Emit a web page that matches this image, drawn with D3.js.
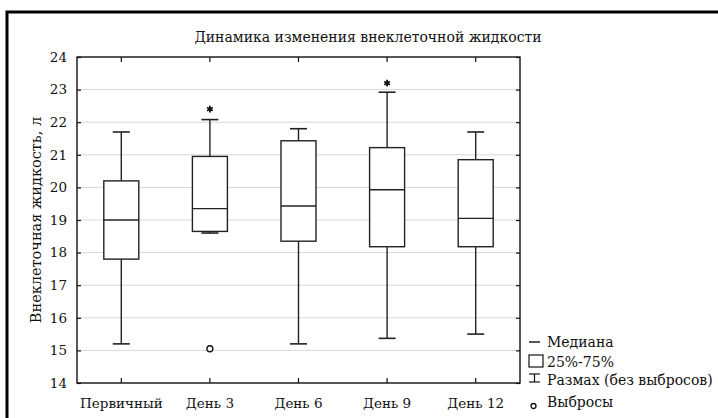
<!DOCTYPE html>
<html>
<head>
<meta charset="utf-8">
<script src="https://cdn.jsdelivr.net/npm/d3@7"></script>
<style>
  body { margin: 0; background: #fff; }
</style>
</head>
<body>
<div id="chart"></div>
<script>
////////////////////////////////////////////////////////////////////////
// Data

let categories = ["Первичный", "День 3", "День 6", "День 9", "День 12"];
let whiskerLow  = [15.2, 18.6, 15.2, 15.37, 15.5];
let q1          = [17.8, 18.65, 18.35, 18.18, 18.18];
let median      = [19.0, 19.35, 19.43, 19.93, 19.05];
let q3          = [20.2, 20.95, 21.43, 21.22, 20.85];
let whiskerHigh = [21.7, 22.08, 21.8, 22.92, 21.7];
// outliers: [category index, value]
let outliers = [[1, 15.05]];
// extreme values (asterisks)
let extremes = [[1, 22.4], [3, 23.2]];
let yTicks = [14, 15, 16, 17, 18, 19, 20, 21, 22, 23, 24];

let titleText = "Динамика изменения внеклеточной жидкости";
let yLabel = "Внеклеточная жидкость, л";
let legendLabels = ["Медиана", "25%-75%", "Размах (без выбросов)", "Выбросы"];

////////////////////////////////////////////////////////////////////////
// Layout

let width = 718, height = 418;
let plot = {left: 77, top: 57, right: 520, bottom: 383};
let boxWidth = 35, capWidth = 17;
let serif = "'DejaVu Serif', 'Liberation Serif', serif";

let svg = d3.select("#chart").append("svg")
  .attr("width", width)
  .attr("height", height);

// outer frame (runs off the right and bottom edge)
svg.append("rect")
  .attr("x", 7).attr("y", 12)
  .attr("width", 800).attr("height", 500)
  .attr("fill", "none")
  .attr("stroke", "#000")
  .attr("stroke-width", 3);

let xScale = d3.scaleBand().domain(categories).range([plot.left, plot.right]).padding(0);
let yScale = d3.scaleLinear().domain([14, 24]).range([plot.bottom, plot.top]);
let cx = i => xScale(categories[i]) + xScale.bandwidth() / 2;

// gridlines
svg.append("g")
  .selectAll("line")
  .data(yTicks.slice(1, -1))
  .enter()
  .append("line")
  .attr("x1", plot.left).attr("x2", plot.right)
  .attr("y1", d => yScale(d)).attr("y2", d => yScale(d))
  .attr("stroke", "#d8d8d8")
  .attr("stroke-width", 1);

// axes (ticks inward on all four sides)
let yAxis = d3.axisLeft(yScale).tickValues(yTicks).tickSize(-4).tickPadding(10).tickFormat(d3.format("d"));
let yAxisR = d3.axisRight(yScale).tickValues(yTicks).tickSize(-4).tickFormat("");
let xAxis = d3.axisBottom(xScale).tickSize(-5).tickPadding(15);
let xAxisT = d3.axisTop(xScale).tickSize(-5).tickFormat("");

function styleAxis(g) {
  g.attr("font-family", serif).attr("font-size", 13.5);
  g.select(".domain").remove();
  g.selectAll(".tick line").attr("stroke", "#111").attr("stroke-width", 1.2);
  g.selectAll(".tick text").attr("fill", "#111");
}

svg.append("g").attr("transform", "translate(" + plot.left + ",0)").call(yAxis).call(styleAxis);
svg.append("g").attr("transform", "translate(" + plot.right + ",0)").call(yAxisR).call(styleAxis);
svg.append("g").attr("transform", "translate(0," + plot.bottom + ")").call(xAxis).call(styleAxis);
svg.append("g").attr("transform", "translate(0," + plot.top + ")").call(xAxisT).call(styleAxis);

// plot frame
svg.append("rect")
  .attr("x", plot.left).attr("y", plot.top)
  .attr("width", plot.right - plot.left).attr("height", plot.bottom - plot.top)
  .attr("fill", "none")
  .attr("stroke", "#111")
  .attr("stroke-width", 1.4);

// boxes
let boxes = svg.append("g").attr("class", "boxes")
  .selectAll("g")
  .data(categories)
  .enter()
  .append("g");

let strokeCol = "#222";

boxes.append("line") // whisker
  .attr("x1", (d, i) => cx(i)).attr("x2", (d, i) => cx(i))
  .attr("y1", (d, i) => yScale(whiskerLow[i])).attr("y2", (d, i) => yScale(whiskerHigh[i]))
  .attr("stroke", strokeCol).attr("stroke-width", 1.4);

boxes.append("line") // low cap
  .attr("x1", (d, i) => cx(i) - capWidth / 2).attr("x2", (d, i) => cx(i) + capWidth / 2)
  .attr("y1", (d, i) => yScale(whiskerLow[i])).attr("y2", (d, i) => yScale(whiskerLow[i]))
  .attr("stroke", strokeCol).attr("stroke-width", 1.6);

boxes.append("line") // high cap
  .attr("x1", (d, i) => cx(i) - capWidth / 2).attr("x2", (d, i) => cx(i) + capWidth / 2)
  .attr("y1", (d, i) => yScale(whiskerHigh[i])).attr("y2", (d, i) => yScale(whiskerHigh[i]))
  .attr("stroke", strokeCol).attr("stroke-width", 1.6);

boxes.append("rect")
  .attr("x", (d, i) => cx(i) - boxWidth / 2)
  .attr("y", (d, i) => yScale(q3[i]))
  .attr("width", boxWidth)
  .attr("height", (d, i) => yScale(q1[i]) - yScale(q3[i]))
  .attr("fill", "#fff")
  .attr("stroke", strokeCol).attr("stroke-width", 1.4);

boxes.append("line") // median
  .attr("x1", (d, i) => cx(i) - boxWidth / 2).attr("x2", (d, i) => cx(i) + boxWidth / 2)
  .attr("y1", (d, i) => yScale(median[i])).attr("y2", (d, i) => yScale(median[i]))
  .attr("stroke", strokeCol).attr("stroke-width", 1.4);

// outliers
svg.append("g")
  .selectAll("circle")
  .data(outliers)
  .enter()
  .append("circle")
  .attr("cx", d => cx(d[0]))
  .attr("cy", d => yScale(d[1]))
  .attr("r", 3)
  .attr("fill", "#fff")
  .attr("stroke", "#111")
  .attr("stroke-width", 1.3);

// extremes
svg.append("g")
  .selectAll("path")
  .data(extremes)
  .enter()
  .append("path")
  .attr("transform", d => "translate(" + cx(d[0]) + "," + yScale(d[1]) + ")")
  .attr("d", d3.symbol().type(d3.symbolAsterisk).size(30))
  .attr("fill", "none")
  .attr("stroke", "#111")
  .attr("stroke-width", 1.8);

// title
svg.append("text")
  .attr("x", 368).attr("y", 42)
  .attr("text-anchor", "middle")
  .attr("font-family", serif)
  .attr("font-size", 14)
  .attr("fill", "#111")
  .text(titleText);

// y label
svg.append("text")
  .attr("transform", "translate(41,220) rotate(-90)")
  .attr("text-anchor", "middle")
  .attr("font-family", serif)
  .attr("font-size", 14.5)
  .attr("fill", "#111")
  .text(yLabel);

// legend
let lg = svg.append("g").attr("transform", "translate(529,0)")
  .attr("font-family", serif).attr("font-size", 14);
let lx = 18, baselines = [347, 367, 385, 407];

lg.append("line").attr("x1", 0).attr("x2", 11).attr("y1", 342).attr("y2", 342)
  .attr("stroke", "#111").attr("stroke-width", 1.4);
lg.append("rect").attr("x", 0).attr("y", 355).attr("width", 14).attr("height", 12)
  .attr("fill", "#fff").attr("stroke", "#111").attr("stroke-width", 1.2);
lg.append("line").attr("x1", 5.5).attr("x2", 5.5).attr("y1", 374).attr("y2", 382)
  .attr("stroke", "#111").attr("stroke-width", 1.2);
lg.append("line").attr("x1", 0).attr("x2", 11).attr("y1", 374).attr("y2", 374)
  .attr("stroke", "#111").attr("stroke-width", 1.2);
lg.append("line").attr("x1", 0).attr("x2", 11).attr("y1", 382).attr("y2", 382)
  .attr("stroke", "#111").attr("stroke-width", 1.2);
lg.append("circle").attr("cx", 4.5).attr("cy", 406).attr("r", 2.5)
  .attr("fill", "#fff").attr("stroke", "#111").attr("stroke-width", 1.3);

lg.selectAll("text.leg")
  .data(legendLabels)
  .enter()
  .append("text")
  .attr("class", "leg")
  .attr("x", lx)
  .attr("y", (d, i) => baselines[i])
  .attr("fill", "#111")
  .text(d => d);
</script>
</body>
</html>
